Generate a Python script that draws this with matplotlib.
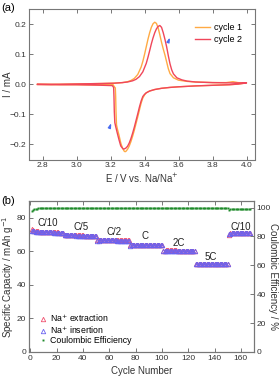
import matplotlib
matplotlib.use("Agg")
import matplotlib.pyplot as plt

plt.rcParams["font.family"] = ["Liberation Sans", "DejaVu Sans"]

# ---- (a) cyclic voltammetry ----
cyc1_E = [2.77, 2.85, 2.95, 3.05, 3.15, 3.22, 3.27, 3.30, 3.32, 3.34, 3.36, 3.38, 3.39,
          3.40, 3.41, 3.42, 3.43, 3.44, 3.45, 3.46, 3.47, 3.48, 3.49, 3.50, 3.51, 3.52,
          3.53, 3.54, 3.55, 3.57, 3.60, 3.65, 3.70, 3.80, 3.88, 3.92, 3.95, 4.00,
          3.95, 3.90, 3.80, 3.70, 3.60, 3.55, 3.50, 3.46, 3.43, 3.41, 3.40, 3.39, 3.38,
          3.37, 3.36, 3.35, 3.34, 3.33, 3.32, 3.31, 3.30, 3.29, 3.285, 3.28, 3.27, 3.26,
          3.25, 3.24, 3.235, 3.232, 3.230, 3.228, 3.22, 3.215, 3.10, 3.00, 2.90, 2.77]
cyc1_I = [0.000, 0.000, 0.001, 0.002, 0.003, 0.004, 0.006, 0.009, 0.013, 0.020, 0.033, 0.058, 0.077,
          0.100, 0.125, 0.150, 0.172, 0.190, 0.202, 0.207, 0.203, 0.188, 0.165, 0.140, 0.118, 0.098,
          0.075, 0.052, 0.036, 0.022, 0.014, 0.010, 0.008, 0.006, 0.006, 0.009, 0.006, 0.005,
          0.001, -0.001, -0.003, -0.005, -0.008, -0.010, -0.013, -0.017, -0.022, -0.028, -0.035, -0.045, -0.062,
          -0.085, -0.108, -0.130, -0.152, -0.172, -0.190, -0.205, -0.216, -0.223, -0.224, -0.222, -0.212, -0.195,
          -0.170, -0.148, -0.135, -0.090, -0.040, -0.012, -0.006, -0.001, -0.002, -0.001, -0.001, 0.000]

cyc2_E = [2.77, 2.85, 2.95, 3.05, 3.15, 3.22, 3.27, 3.30, 3.33, 3.35, 3.37, 3.39, 3.41,
          3.42, 3.43, 3.44, 3.45, 3.46, 3.47, 3.48, 3.49, 3.50, 3.51, 3.52, 3.53, 3.54,
          3.55, 3.56, 3.57, 3.59, 3.62, 3.65, 3.70, 3.80, 3.90, 4.00,
          3.95, 3.90, 3.80, 3.70, 3.60, 3.55, 3.50, 3.46, 3.43, 3.41, 3.40, 3.39, 3.38,
          3.37, 3.36, 3.35, 3.34, 3.33, 3.32, 3.31, 3.30, 3.29, 3.28, 3.275, 3.27, 3.26,
          3.25, 3.24, 3.23, 3.225, 3.222, 3.220, 3.218, 3.21, 3.10, 3.00, 2.90, 2.77]
cyc2_I = [0.000, 0.000, 0.001, 0.002, 0.003, 0.004, 0.006, 0.008, 0.012, 0.017, 0.026, 0.042, 0.070,
          0.090, 0.112, 0.135, 0.155, 0.172, 0.185, 0.193, 0.196, 0.190, 0.172, 0.150, 0.125, 0.095,
          0.068, 0.048, 0.035, 0.022, 0.015, 0.011, 0.008, 0.006, 0.005, 0.005,
          0.001, -0.001, -0.003, -0.005, -0.008, -0.010, -0.013, -0.017, -0.022, -0.028, -0.033, -0.040, -0.055,
          -0.075, -0.098, -0.120, -0.142, -0.162, -0.180, -0.195, -0.206, -0.212, -0.215, -0.215, -0.212, -0.205,
          -0.185, -0.163, -0.140, -0.127, -0.090, -0.040, -0.010, -0.004, -0.002, -0.001, -0.001, 0.000]

# ---- (b) rate capability ----
cycles = list(range(1, 168))
cap_ext = [73.2, 72.6, 72.3, 72.1, 72.0, 71.9, 71.8, 71.8, 71.7, 71.7, 71.6, 71.6, 71.5,
           71.5, 71.5, 71.4, 71.4, 71.4, 71.3, 71.3, 71.3, 71.2, 71.2, 71.2, 71.1,
           69.9, 69.8, 69.8, 69.7, 69.7, 69.7, 69.6, 69.6, 69.6, 69.6, 69.5, 69.5, 69.5,
           69.5, 69.5, 69.4, 69.4, 69.4, 69.4, 69.4, 69.3, 69.3, 69.3, 69.3, 69.3,
           66.5, 66.6, 66.6, 66.6, 66.6, 66.6, 66.6, 66.6, 66.6, 66.6, 66.6, 66.6, 66.6,
           66.6, 66.6, 66.5, 66.5, 66.5, 66.5, 66.5, 66.5, 66.5, 66.5, 66.5, 66.5,
           63.6, 63.8, 63.8, 63.9, 63.9, 63.9, 63.9, 63.9, 63.9, 63.9, 63.9, 63.9, 63.9,
           63.9, 63.9, 63.9, 63.9, 63.9, 63.8, 63.8, 63.8, 63.8, 63.8, 63.8, 63.8,
           60.2, 60.4, 60.5, 60.5, 60.5, 60.5, 60.5, 60.5, 60.5, 60.5, 60.5, 60.4, 60.4,
           60.4, 60.4, 60.4, 60.4, 60.4, 60.4, 60.4, 60.4, 60.3, 60.3, 60.3, 60.3,
           52.5, 52.6, 52.7, 52.7, 52.7, 52.7, 52.7, 52.7, 52.7, 52.7, 52.7, 52.7, 52.6,
           52.6, 52.6, 52.6, 52.6, 52.6, 52.6, 52.6, 52.5, 52.5, 52.5, 52.5, 52.4,
           69.9, 70.7, 70.9, 71.0, 71.0, 71.0, 71.0, 71.0, 71.0, 71.0, 71.0, 70.9, 70.9,
           70.9, 70.9, 70.9, 70.9]
cap_ins = [72.2, 72.0, 71.9, 71.8, 71.7, 71.6, 71.6, 71.5, 71.5, 71.5, 71.4, 71.4, 71.4,
           71.3, 71.3, 71.3, 71.3, 71.2, 71.2, 71.2, 71.1, 71.1, 71.1, 71.0, 71.0,
           69.6, 69.6, 69.6, 69.6, 69.5, 69.5, 69.5, 69.5, 69.5, 69.4, 69.4, 69.4, 69.4,
           69.4, 69.3, 69.3, 69.3, 69.3, 69.3, 69.3, 69.2, 69.2, 69.2, 69.2, 69.2,
           66.3, 66.4, 66.5, 66.5, 66.5, 66.5, 66.5, 66.5, 66.5, 66.5, 66.5, 66.5, 66.5,
           66.5, 66.5, 66.4, 66.4, 66.4, 66.4, 66.4, 66.4, 66.4, 66.4, 66.4, 66.4,
           63.4, 63.7, 63.8, 63.8, 63.8, 63.8, 63.8, 63.8, 63.8, 63.8, 63.8, 63.8, 63.8,
           63.8, 63.8, 63.8, 63.8, 63.8, 63.7, 63.7, 63.7, 63.7, 63.7, 63.7, 63.7,
           60.0, 60.3, 60.4, 60.4, 60.4, 60.4, 60.4, 60.4, 60.4, 60.4, 60.4, 60.3, 60.3,
           60.3, 60.3, 60.3, 60.3, 60.3, 60.3, 60.3, 60.3, 60.2, 60.2, 60.2, 60.2,
           52.3, 52.5, 52.6, 52.6, 52.6, 52.6, 52.6, 52.6, 52.6, 52.6, 52.6, 52.6, 52.5,
           52.5, 52.5, 52.5, 52.5, 52.5, 52.5, 52.5, 52.4, 52.4, 52.4, 52.4, 52.3,
           70.4, 70.6, 70.8, 70.9, 70.9, 70.9, 70.9, 70.9, 70.9, 70.9, 70.9, 70.8, 70.8,
           70.8, 70.8, 70.8, 70.8]
coul_eff = [97.6, 98.5, 98.9, 99.1, 99.3, 99.4, 99.5, 99.5, 99.6, 99.6, 99.6, 99.7, 99.7,
            99.7, 99.7, 99.7, 99.7, 99.7, 99.7, 99.7, 99.7, 99.7, 99.7, 99.7, 99.7,
            99.5, 99.6, 99.6, 99.6, 99.6, 99.6, 99.6, 99.6, 99.6, 99.6, 99.6, 99.6, 99.6,
            99.6, 99.6, 99.6, 99.6, 99.6, 99.6, 99.6, 99.6, 99.6, 99.6, 99.6, 99.6,
            99.5, 99.6, 99.6, 99.6, 99.6, 99.6, 99.6, 99.6, 99.6, 99.6, 99.6, 99.6, 99.6,
            99.6, 99.6, 99.6, 99.6, 99.6, 99.6, 99.6, 99.6, 99.6, 99.6, 99.6, 99.6,
            99.6, 99.6, 99.6, 99.6, 99.6, 99.6, 99.6, 99.6, 99.6, 99.6, 99.6, 99.6, 99.6,
            99.6, 99.6, 99.6, 99.6, 99.6, 99.6, 99.6, 99.6, 99.6, 99.6, 99.6, 99.6,
            99.6, 99.6, 99.6, 99.6, 99.6, 99.6, 99.6, 99.6, 99.6, 99.6, 99.6, 99.6, 99.6,
            99.6, 99.6, 99.6, 99.6, 99.6, 99.6, 99.6, 99.6, 99.6, 99.6, 99.6, 99.6,
            99.7, 99.7, 99.7, 99.7, 99.7, 99.7, 99.7, 99.7, 99.7, 99.7, 99.7, 99.7, 99.7,
            99.7, 99.7, 99.7, 99.7, 99.7, 99.7, 99.7, 99.7, 99.7, 99.7, 99.7, 99.7,
            98.6, 98.8, 98.9, 98.9, 98.9, 98.9, 98.9, 98.9, 98.9, 98.9, 98.9, 98.9, 98.9,
            98.9, 98.9, 98.9, 98.9]

rate_labels = ["C/10", "C/5", "C/2", "C", "2C", "5C", "C/10"]
rate_label_x = [13.5, 38.5, 63.5, 87.5, 113, 137, 160]
rate_label_y = [77, 74.5, 71.5, 69, 64.8, 56.5, 74.5]

GREY = "#777777"
TXT = "#333333"


def style_axes(ax):
    for s in ax.spines.values():
        s.set_color(GREY)
        s.set_linewidth(0.8)
    ax.tick_params(direction="in", length=3, width=0.7, color=GREY,
                   labelsize=6, labelcolor=TXT, top=True, right=True, pad=2)


fig = plt.figure(figsize=(2.8, 3.78), dpi=100)

# --- panel (a) ---
ax1 = fig.add_axes([29 / 280, 1 - 159.5 / 378, 226 / 280, 150.2 / 378])
ax1.plot(cyc1_E, cyc1_I, color="#ffaa44", lw=1.0, label="cycle 1")
ax1.plot(cyc2_E, cyc2_I, color="#f0465a", lw=1.0, label="cycle 2")
ax1.set_xlim(2.72, 4.05)
ax1.set_ylim(-0.25, 0.25)
ax1.set_xticks([2.8, 3.0, 3.2, 3.4, 3.6, 3.8, 4.0])
ax1.set_yticks([-0.2, -0.1, 0.0, 0.1, 0.2])
ax1.set_xlabel("E / V vs. Na/Na$^{+}$", fontsize=7, color=TXT, labelpad=2)
ax1.set_ylabel("I / mA", fontsize=7, color=TXT, va="center")
ax1.yaxis.set_label_coords(-0.095, 0.5)
style_axes(ax1)
ax1.legend(loc="upper right", bbox_to_anchor=(0.98, 0.96), frameon=False,
           fontsize=6.5, handlelength=1.6, labelspacing=0.25, handletextpad=0.5)
# little blue arrows
ax1.annotate("", xy=(3.555, 0.165), xytext=(3.535, 0.135),
             arrowprops=dict(arrowstyle="-|>,head_length=0.25,head_width=0.08",
                             color="#4a6cf0", lw=0.9))
ax1.annotate("", xy=(3.21, -0.12), xytext=(3.19, -0.15),
             arrowprops=dict(arrowstyle="-|>,head_length=0.25,head_width=0.08",
                             color="#4a6cf0", lw=0.9))
fig.text(0.005, 0.992, "(a)", fontsize=8, va="top", ha="left")

# --- panel (b) ---
ax2 = fig.add_axes([29 / 280, 1 - 352 / 378, 225 / 280, 151 / 378])
ax3 = ax2.twinx()
ax3.plot(cycles, coul_eff, "s", color="#1e8a2a", ms=1.4, mew=0,
         label="Coulombic Efficiency", zorder=1)
ax2.plot(cycles, cap_ext, "^", mfc="none", mec="#f0506e", ms=3.2, mew=0.6,
         label="Na$^{+}$ extraction")
ax2.plot(cycles, cap_ins, "^", mfc="none", mec="#6a62f0", ms=3.2, mew=0.6,
         label="Na$^{+}$ insertion")
ax2.set_xlim(-1, 170)
ax2.set_ylim(0, 90)
ax3.set_ylim(0, 104.5)
ax2.set_xticks(range(0, 161, 20))
ax2.set_yticks(range(0, 81, 20))
ax3.set_yticks(range(0, 101, 20))
for lab, x, y in zip(rate_labels, rate_label_x, rate_label_y):
    ax2.text(x, y, lab, fontsize=7, ha="center", va="center", color="#222222")
ax2.set_xlabel("Cycle Number", fontsize=7, color=TXT, labelpad=3)
ax2.set_ylabel("Specific Capacity / mAh g$^{-1}$", fontsize=7, color=TXT, va="center")
ax2.yaxis.set_label_coords(-0.095, 0.5)
ax3.set_ylabel("Coulombic Efficiency / %", fontsize=7, color=TXT, rotation=270,
               va="center")
ax3.yaxis.set_label_coords(1.085, 0.5)
style_axes(ax2)
ax2.tick_params(right=False)
style_axes(ax3)
ax3.tick_params(left=False, top=False)
h1, l1 = ax2.get_legend_handles_labels()
h2, l2 = ax3.get_legend_handles_labels()
ax2.legend(h1 + h2, l1 + l2, loc="lower left", bbox_to_anchor=(0.01, 0.0),
           frameon=False, fontsize=6.3, handlelength=1.0, labelspacing=0.0,
           handletextpad=0.4, borderpad=0.3, markerscale=1.0)
fig.text(0.005, 0.482, "(b)", fontsize=8, va="top", ha="left")

fig.savefig("out.png", dpi=100)
